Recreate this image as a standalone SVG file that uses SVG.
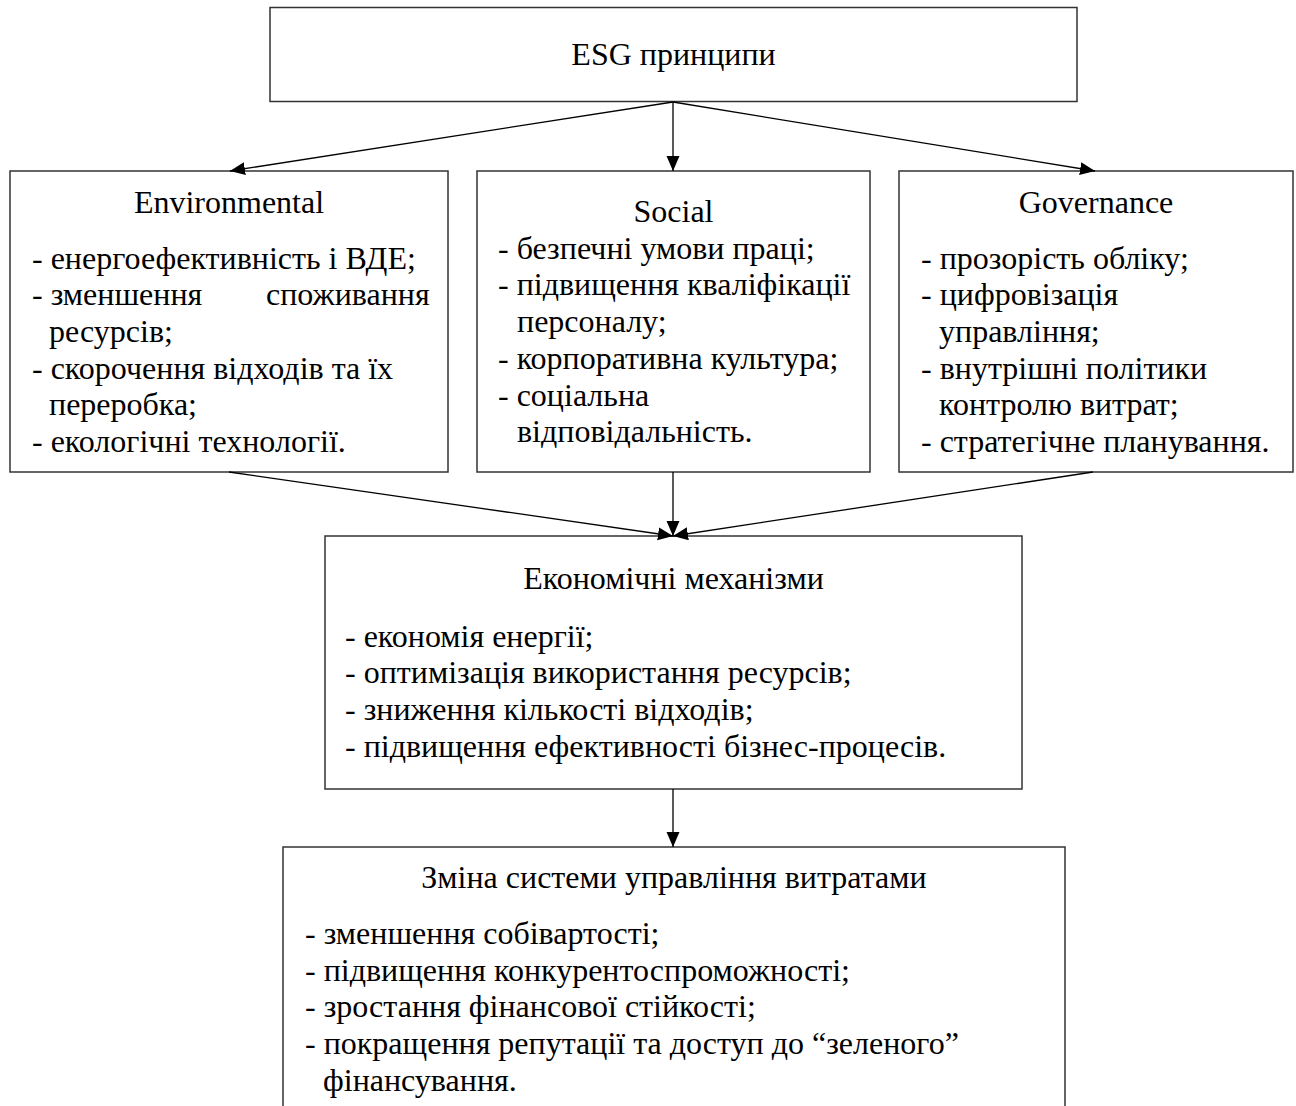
<svg xmlns="http://www.w3.org/2000/svg" width="1296" height="1106" viewBox="0 0 1296 1106">
<defs>
<style>
.box{fill:#fff;stroke:#333;stroke-width:1.5}
.t{font-size:32px;fill:#000}
.c{text-anchor:middle}
.conn{stroke:#000;stroke-width:1.3;fill:none;marker-end:url(#ah)}
</style>
<marker id="ah" markerUnits="userSpaceOnUse" markerWidth="16" markerHeight="14" refX="15" refY="6.5" orient="auto">
<path d="M0,0 L15,6.5 L0,13 z" fill="#000"/>
</marker>
</defs>
<rect width="1296" height="1106" fill="#fff"/>

<g font-family="'Liberation Serif', Tinos, 'Times New Roman', serif">
<g id="esg">
<rect class="box" x="270" y="7.5" width="807" height="94"/>
<text class="t c" x="673.5" y="65">ESG принципи</text>
</g>

<g id="environmental">
<rect class="box" x="10" y="171" width="438" height="301"/>
<text class="t c" x="229" y="212.5">Environmental</text>
<text class="t" x="32" y="268.5">- енергоефективність і ВДЕ;</text>
<text class="t" y="305.2"><tspan x="32">- зменшення</tspan><tspan x="266">споживання</tspan></text>
<text class="t" x="49" y="341.9">ресурсів;</text>
<text class="t" x="32" y="378.6">- скорочення відходів та їх</text>
<text class="t" x="49" y="415.3">переробка;</text>
<text class="t" x="32" y="452">- екологічні технології.</text>
</g>

<g id="social">
<rect class="box" x="477" y="171" width="393" height="301"/>
<text class="t c" x="673.5" y="222">Social</text>
<text class="t" x="498" y="258.7">- безпечні умови праці;</text>
<text class="t" x="498" y="295.4">- підвищення кваліфікації</text>
<text class="t" x="517" y="332.1">персоналу;</text>
<text class="t" x="498" y="368.8">- корпоративна культура;</text>
<text class="t" x="498" y="405.5">- соціальна</text>
<text class="t" x="517" y="442.2">відповідальність.</text>
</g>

<g id="governance">
<rect class="box" x="899" y="171" width="394" height="301"/>
<text class="t c" x="1096" y="212.5">Governance</text>
<text class="t" x="921" y="268.5">- прозорість обліку;</text>
<text class="t" x="921" y="305.2">- цифровізація</text>
<text class="t" x="939" y="341.9">управління;</text>
<text class="t" x="921" y="378.6">- внутрішні політики</text>
<text class="t" x="939" y="415.3">контролю витрат;</text>
<text class="t" x="921" y="452">- стратегічне планування.</text>
</g>

<g id="economic">
<rect class="box" x="325" y="536" width="697" height="253"/>
<text class="t c" x="673.5" y="589">Економічні механізми</text>
<text class="t" x="345" y="646.7">- економія енергії;</text>
<text class="t" x="345" y="683.4">- оптимізація використання ресурсів;</text>
<text class="t" x="345" y="720.1">- зниження кількості відходів;</text>
<text class="t" x="345" y="756.8">- підвищення ефективності бізнес-процесів.</text>
</g>

<g id="cost-management">
<path class="box" d="M283,1110 V847 H1065 V1110"/>
<text class="t c" x="674" y="888">Зміна системи управління витратами</text>
<text class="t" x="305" y="944">- зменшення собівартості;</text>
<text class="t" x="305" y="980.7">- підвищення конкурентоспроможності;</text>
<text class="t" x="305" y="1017.4">- зростання фінансової стійкості;</text>
<text class="t" x="305" y="1054.1">- покращення репутації та доступ до “зеленого”</text>
<text class="t" x="323" y="1090.8">фінансування.</text>
</g>
</g>

<g id="connectors">
<line class="conn" x1="673" y1="102" x2="230" y2="171"/>
<line class="conn" x1="673" y1="102" x2="673" y2="171"/>
<line class="conn" x1="673" y1="102" x2="1095" y2="171"/>
<line class="conn" x1="229" y1="472" x2="673" y2="536"/>
<line class="conn" x1="673" y1="472" x2="673" y2="536"/>
<line class="conn" x1="1093" y1="472" x2="673" y2="536"/>
<line class="conn" x1="673" y1="789" x2="673" y2="847"/>
</g>
</svg>
